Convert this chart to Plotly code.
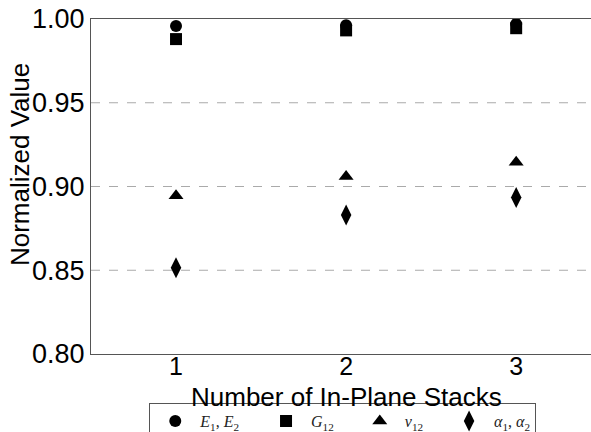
import plotly.graph_objects as go

stacks = [1, 2, 3]
E_vals = [0.9958, 0.9963, 0.9970]
G_vals = [0.9880, 0.9932, 0.9945]
nu_vals = [0.8945, 0.9060, 0.9145]
alpha_vals = [0.8515, 0.8830, 0.8935]

series_names = ["<i>E</i><sub>1</sub>, <i>E</i><sub>2</sub>", "<i>G</i><sub>12</sub>",
                "<i>ν</i><sub>12</sub>", "<i>α</i><sub>1</sub>, <i>α</i><sub>2</sub>"]
y_ticks = [0.80, 0.85, 0.90, 0.95, 1.00]

fig = go.Figure()
symbols = ["circle", "square", "triangle-up", "diamond-tall"]
sizes = [12, 12, 13, 15]
pad = "\u00a0" * 4
all_vals = [E_vals, G_vals, nu_vals, alpha_vals]
for i, (name, vals, sym, sz) in enumerate(zip(series_names, all_vals, symbols, sizes)):
    label = name + (pad if i < len(series_names) - 1 else "")
    fig.add_trace(go.Scatter(x=stacks, y=vals, mode="markers", name=label,
                             marker=dict(symbol=sym, size=sz, color="black")))

# dashed grid lines
for yv in [0.85, 0.90, 0.95]:
    fig.add_shape(type="line", xref="paper", x0=0, x1=1, yref="y", y0=yv, y1=yv,
                  line=dict(color="#aaaaaa", width=1, dash="dash"), layer="below")

fig.update_layout(
    width=591, height=432,
    margin=dict(l=91, r=0, t=19, b=78, autoexpand=False),
    paper_bgcolor="white", plot_bgcolor="white",
    font=dict(family="Liberation Sans, Arial, sans-serif", color="black"),
    showlegend=True,
    legend=dict(orientation="h", xref="container", yref="container",
                x=0.58, xanchor="center", y=0.067, yanchor="top",
                bordercolor="#555555", borderwidth=1, bgcolor="white",
                font=dict(family="Liberation Serif, Times New Roman, serif", size=16, color="#222222"),
                itemwidth=40),
)
fig.update_xaxes(range=[0.5, 3.44], tickvals=stacks, ticktext=["1", "2", "3"],
                 showgrid=False, zeroline=False, showline=True, mirror=True, automargin=False,
                 linecolor="#555555", linewidth=1, ticks="", tickfont=dict(size=25),
                 ticklabelstandoff=-10)
fig.update_yaxes(range=[0.80, 1.00], tickvals=y_ticks, ticktext=[f"{v:.2f}" for v in y_ticks],
                 showgrid=False, zeroline=False, showline=True, automargin=False,
                 linecolor="#555555", linewidth=1, ticks="", tickfont=dict(size=27))

fig.add_annotation(text="Number of In-Plane Stacks", xref="paper", yref="paper",
                   x=0.51, y=-0.078, xanchor="center", yanchor="top", showarrow=False,
                   font=dict(size=26))
fig.add_annotation(text="Normalized Value", xref="paper", yref="paper",
                   x=-0.142, y=0.564, xanchor="center", yanchor="middle", textangle=-90,
                   showarrow=False, font=dict(size=26))

fig.write_html("out.html", post_script="document.body.style.margin='0';",
               config={"displayModeBar": False})
